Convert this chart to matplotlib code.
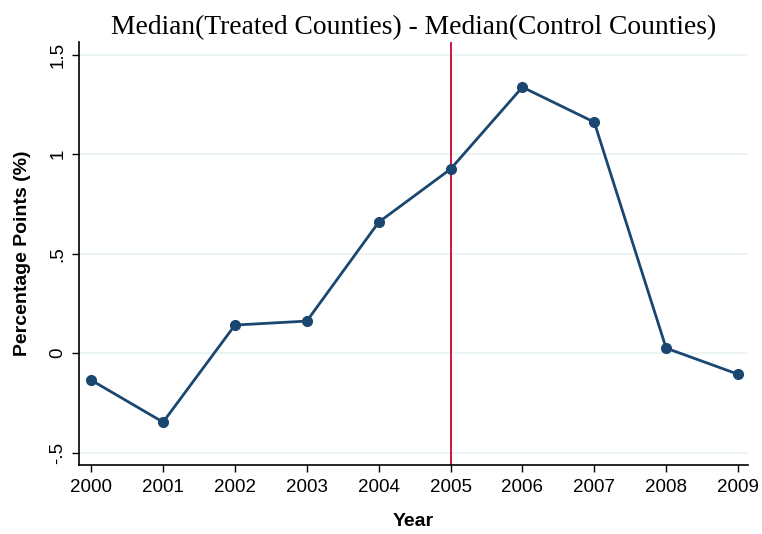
import matplotlib
matplotlib.use("Agg")
import matplotlib.pyplot as plt

years = [2000, 2001, 2002, 2003, 2004, 2005, 2006, 2007, 2008, 2009]
values = [-0.136, -0.347, 0.141, 0.161, 0.658, 0.925, 1.337, 1.161, 0.025, -0.106]
yticks = [-0.5, 0, 0.5, 1, 1.5]
ytick_labels = ["-.5", "0", ".5", "1", "1.5"]
treat_year = 2005

fig = plt.figure(figsize=(7.62, 5.34), dpi=100)
ax = fig.add_axes([0.1037, 0.129, 0.878, 0.792])

for y in yticks:
    ax.axhline(y, color="#eaf2f3", lw=1.2, zorder=0)
ax.axvline(treat_year, color="#c10534", lw=1.3, zorder=1)
ax.plot(years, values, color="#1a476f", lw=2, marker="o", ms=7, zorder=3)

ax.set_xlim(1999.83, 2009.14)
ax.set_ylim(-0.563, 1.563)
ax.set_xticks(years)
ax.set_xticklabels([str(y) for y in years], fontfamily="Liberation Sans", fontsize=13.5)
ax.set_yticks(yticks)
ax.set_yticklabels(ytick_labels, fontfamily="Liberation Sans", fontsize=13.5, rotation=90, va="center")
ax.tick_params(direction="out", length=5, width=1, color="black")
ax.tick_params(axis="x", pad=5)
ax.tick_params(axis="y", pad=4)
for s in ["top", "right"]:
    ax.spines[s].set_visible(False)
for s in ["left", "bottom"]:
    ax.spines[s].set_linewidth(1.2)

ax.set_xlabel("Year", fontfamily="Liberation Sans", fontweight="bold", fontsize=14, labelpad=12)
ax.set_ylabel("Percentage Points (%)", fontfamily="Liberation Sans", fontweight="bold", fontsize=14, labelpad=13)
ax.set_title("Median(Treated Counties) - Median(Control Counties)", fontfamily="Liberation Serif", fontsize=19.8, pad=6)

fig.savefig("out.png", dpi=100)
